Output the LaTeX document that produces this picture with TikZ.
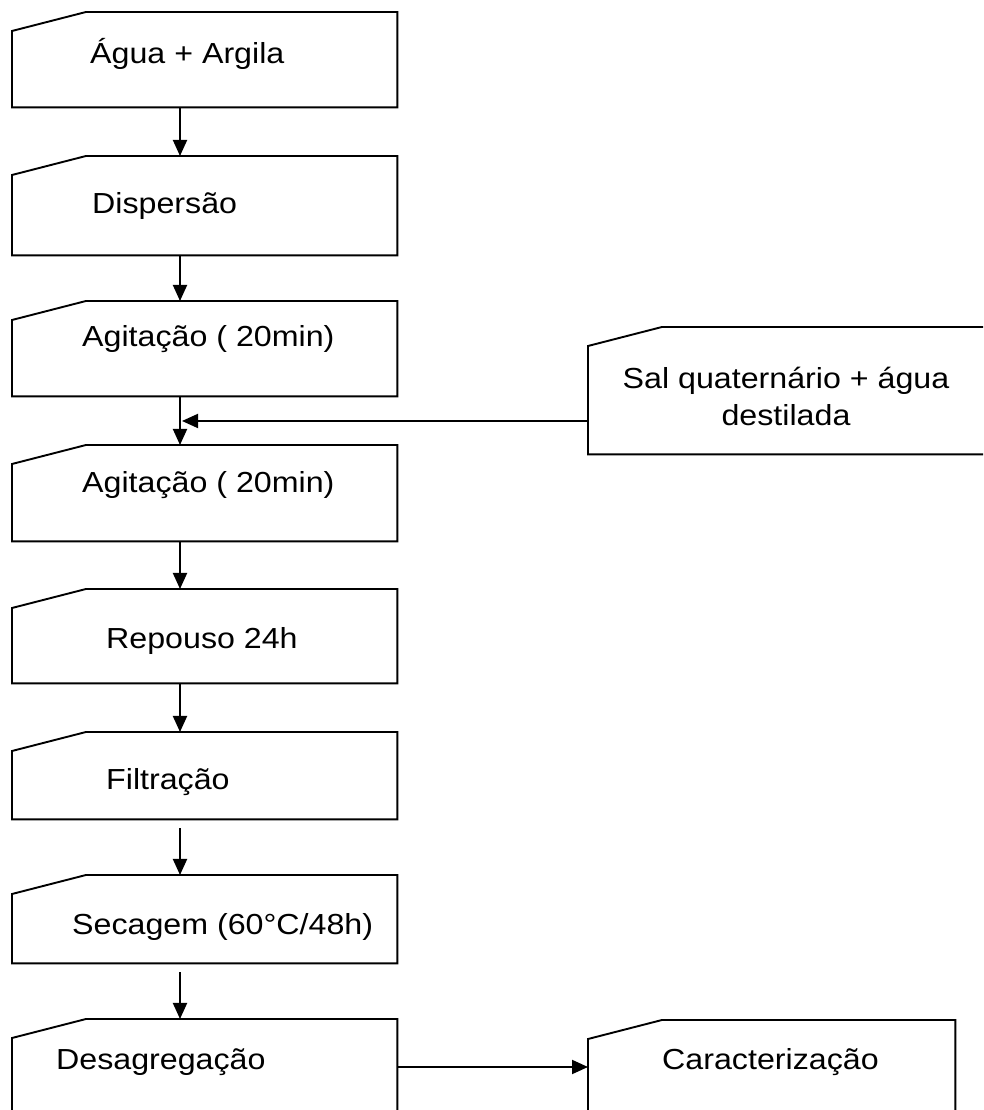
\documentclass[tikz,border=0pt]{standalone}
\usepackage{fontspec}
\setmainfont{Liberation Sans}[FakeStretch=1.11]
\usetikzlibrary{arrows.meta}
\begin{document}
\begin{tikzpicture}[x=1pt,y=1pt,
  area/.style={draw=none,inner sep=0pt,anchor=north west},
  edge/.style={line width=1.9pt,line join=miter},
  lbl/.style={inner sep=0pt,anchor=base west,font=\fontsize{29}{36}\selectfont},
  arr/.style={line width=1.9pt,-{Triangle[length=16pt,width=14pt]}}]
\useasboundingbox (0,0) rectangle (983,1110);
\clip (0,0) rectangle (983,1110);
\fill[white] (0,0) rectangle (983,1110);
% box areas (rectangular extent)
\node[area,minimum width=385pt,minimum height=95pt] (b1) at (12,1098) {};
\node[area,minimum width=385pt,minimum height=99pt] (b2) at (12,954) {};
\node[area,minimum width=385pt,minimum height=95pt] (b3) at (12,809) {};
\node[area,minimum width=385pt,minimum height=96pt] (b4) at (12,665) {};
\node[area,minimum width=385pt,minimum height=94pt] (b5) at (12,521) {};
\node[area,minimum width=385pt,minimum height=87pt] (b6) at (12,378) {};
\node[area,minimum width=385pt,minimum height=88pt] (b7) at (12,235) {};
\node[area,minimum width=385pt,minimum height=110pt] (b8) at (12,91) {};
\node[area,minimum width=367pt,minimum height=110pt] (b9) at (588,90) {};
\node[area,minimum width=410pt,minimum height=127pt] (sal) at (588,783) {};
% outlines (manual input shape)
\foreach \n in {b1,b2,b3,b4,b5,b6,b7,b8,b9,sal}
  \draw[edge] ([yshift=-19pt]\n.north west) -- ([xshift=74pt]\n.north west)
     -- (\n.north east) -- (\n.south east) -- (\n.south west) -- cycle;
% texts
\node[lbl] (t1) at (90,1046) {Água + Argila};
\node[lbl] (t2) at (92,896) {Dispersão};
\node[lbl] (t3) at (82,763) {Agitação ( 20min)};
\node[lbl] (t4) at (82,617) {Agitação ( 20min)};
\node[lbl] (t5) at (106,461) {Repouso 24h};
\node[lbl] (t6) at (106,320) {Filtração};
\node[lbl] (t7) at (72,175) {Secagem (60°C/48h)};
\node[lbl] (t8) at (56,40) {Desagregação};
\node[lbl] (t9) at (662,40) {Caracterização};
\node[inner sep=0pt,align=center,font=\fontsize{29}{37}\selectfont,anchor=north] (tsal) at (786,743) {Sal quaternário + água\\destilada};
% connectors
\coordinate (m) at (180,689);
\draw[arr] ([xshift=168pt]b1.south west) -- ([xshift=168pt]b2.north west);
\draw[arr] ([xshift=168pt]b2.south west) -- ([xshift=168pt]b3.north west);
\draw[arr] ([xshift=168pt]b3.south west) -- ([xshift=168pt]b4.north west);
\draw[arr] (m -| sal.west) -- ([xshift=2pt]m);
\draw[arr] ([xshift=168pt]b4.south west) -- ([xshift=168pt]b5.north west);
\draw[arr] ([xshift=168pt]b5.south west) -- ([xshift=168pt]b6.north west);
\draw[arr,shorten <=9pt] ([xshift=168pt]b6.south west) -- ([xshift=168pt]b7.north west);
\draw[arr,shorten <=9pt] ([xshift=168pt]b7.south west) -- ([xshift=168pt]b8.north west);
\coordinate (h) at (0,43);
\draw[arr] (h -| b8.east) -- (h -| b9.west);
\end{tikzpicture}
\end{document}
